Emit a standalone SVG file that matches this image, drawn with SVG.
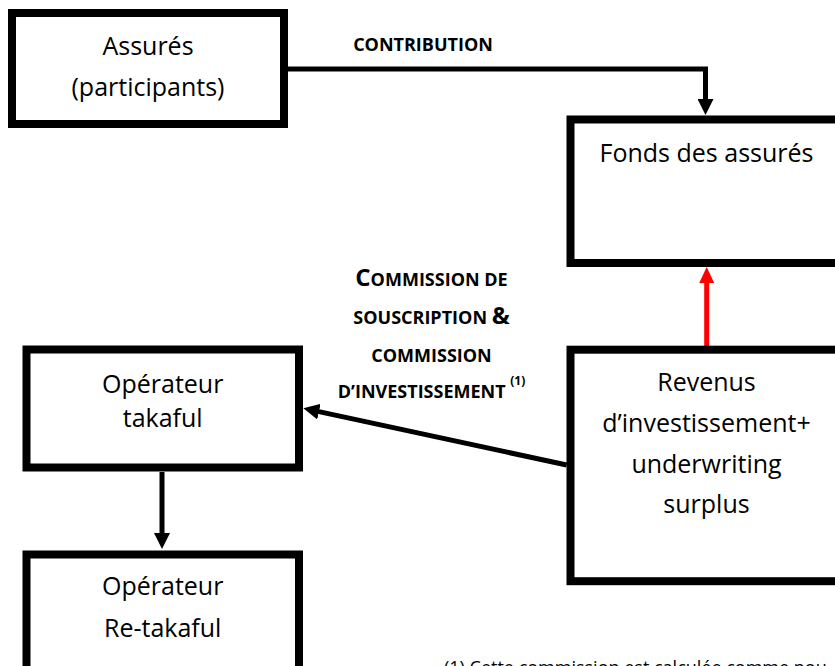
<svg xmlns="http://www.w3.org/2000/svg" width="835" height="666" viewBox="0 0 835 666">
<style>
.box{fill:#fff;stroke:#000;stroke-width:8}
.t{font-family:"Open Sans","Noto Sans",sans-serif;font-size:25px;fill:#000;text-anchor:middle}
.lbl{font-family:"Open Sans","Noto Sans",sans-serif;font-weight:bold;fill:#000;text-anchor:middle}
.sc{font-size:18px}
.big{font-size:24px}
.conn{fill:none;stroke:#000;stroke-width:5}
.red{stroke:#f00}
.note{font-family:"Open Sans","Noto Sans",sans-serif;font-size:18px;fill:#000}
</style>
<defs>
<marker id="ah" markerUnits="userSpaceOnUse" markerWidth="16" markerHeight="16" refX="6" refY="8" orient="auto" viewBox="0 0 16 16">
<path d="M0,0 L16,8 L0,16 z" fill="#000"/>
</marker>
<marker id="ahr" markerUnits="userSpaceOnUse" markerWidth="16" markerHeight="16" refX="6" refY="8" orient="auto" viewBox="0 0 16 16">
<path d="M0,0.5 L16,8 L0,15.5 z" fill="#f00"/>
</marker>
</defs>
<rect width="835" height="666" fill="#fff"/>
<g id="connectors">
<path class="conn" d="M288,69 H705.5 V105" marker-end="url(#ah)"/>
<path class="conn" d="M162,472 V539" marker-end="url(#ah)"/>
<path class="conn red" d="M706.7,346 V277" marker-end="url(#ahr)"/>
<path class="conn" d="M566.7,465 L313.1,410.4" marker-end="url(#ah)"/>
</g>
<g id="label-contribution">
<text class="lbl sc" x="423" y="51">CONTRIBUTION</text>
</g>
<g id="label-commission">
<text class="lbl" x="431.5" y="286"><tspan class="big">C</tspan><tspan class="sc">OMMISSION DE</tspan></text>
<text class="lbl" x="431.5" y="324"><tspan class="sc">SOUSCRIPTION </tspan><tspan class="big">&amp;</tspan></text>
<text class="lbl sc" x="431.5" y="361.5">COMMISSION</text>
<text class="lbl" x="431.5" y="398"><tspan class="sc">D’INVESTISSEMENT </tspan><tspan font-size="12" dy="-13">(1)</tspan></text>
</g>
<g id="node-assures">
<rect class="box" x="12" y="13" width="272" height="111"/>
<text class="t" x="148" y="55">Assurés</text>
<text class="t" x="148" y="96">(participants)</text>
</g>
<g id="node-fonds">
<rect class="box" x="570.5" y="119.5" width="280" height="143.5"/>
<text class="t" x="706.5" y="162">Fonds des assurés</text>
</g>
<g id="node-operateur">
<rect class="box" x="26.5" y="349.5" width="272.5" height="118"/>
<text class="t" x="162.7" y="393">Opérateur</text>
<text class="t" x="162.7" y="427">takaful</text>
</g>
<g id="node-retakaful">
<rect class="box" x="26.5" y="554.5" width="272.5" height="130"/>
<text class="t" x="162.7" y="595">Opérateur</text>
<text class="t" x="162.7" y="637">Re-takaful</text>
</g>
<g id="node-revenus">
<rect class="box" x="570.5" y="349.7" width="280" height="231.5"/>
<text class="t" x="706.5" y="391">Revenus</text>
<text class="t" x="706.5" y="432">d’investissement+</text>
<text class="t" x="706.5" y="473">underwriting</text>
<text class="t" x="706.5" y="513">surplus</text>
</g>
<g id="footnote">
<text class="note" x="444" y="674">(1) Cette commission est calculée comme pou</text>
</g>
</svg>
